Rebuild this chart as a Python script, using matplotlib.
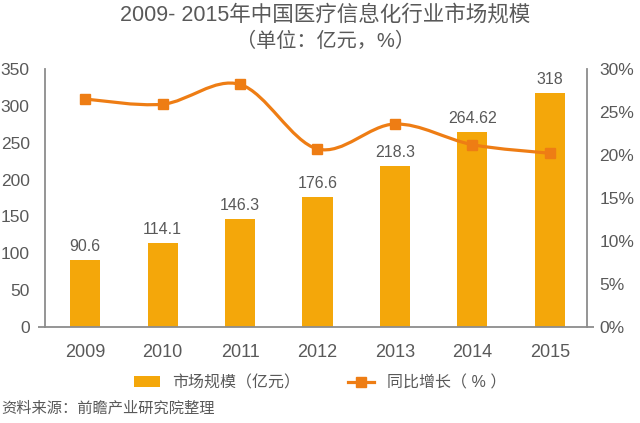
import matplotlib
matplotlib.use("Agg")
import matplotlib.pyplot as plt
from matplotlib.path import Path
from matplotlib.patches import PathPatch
from matplotlib.lines import Line2D
from matplotlib.patches import Patch

plt.rcParams['font.family'] = ['Liberation Sans', 'Noto Sans CJK SC', 'DejaVu Sans']

# -------------------------------
# Data
# -------------------------------
years = ["2009", "2010", "2011", "2012", "2013", "2014", "2015"]
market_size = [90.6, 114.1, 146.3, 176.6, 218.3, 264.62, 318]
size_labels = ["90.6", "114.1", "146.3", "176.6", "218.3", "264.62", "318"]
growth = [26.5, 25.9, 28.2, 20.7, 23.6, 21.2, 20.2]

bar_color = "#F4A70A"
line_color = "#EE7D14"
text_color = "#595959"
spine_color = "#8C8C8C"

fig = plt.figure(figsize=(6.4, 4.23), dpi=100)
ax = fig.add_axes([0.0703, 0.227, 0.8467, 0.610])
ax2 = ax.twinx()

x = list(range(len(years)))

# -------------------------------
# Bars
# -------------------------------
ax.bar(x, market_size, width=0.39, color=bar_color, zorder=2)
for xi, v, lab in zip(x, market_size, size_labels):
    ax.text(xi, v + 8, lab, ha="center", va="bottom", fontsize=11.5, color=text_color)

ax.set_xlim(-0.52, 6.48)
ax.set_ylim(0, 350)
ax.set_yticks(range(0, 351, 50))
ax.set_xticks(x)
ax.set_xticklabels(years)

# -------------------------------
# Smooth growth line (Catmull-Rom as bezier)
# -------------------------------
verts = [(x[0], growth[0])]
codes = [Path.MOVETO]
n = len(x)
for i in range(n - 1):
    p0 = (x[max(i - 1, 0)], growth[max(i - 1, 0)])
    p1 = (x[i], growth[i])
    p2 = (x[i + 1], growth[i + 1])
    p3 = (x[min(i + 2, n - 1)], growth[min(i + 2, n - 1)])
    c1 = (p1[0] + (p2[0] - p0[0]) / 6, p1[1] + (p2[1] - p0[1]) / 6)
    c2 = (p2[0] - (p3[0] - p1[0]) / 6, p2[1] - (p3[1] - p1[1]) / 6)
    verts += [c1, c2, p2]
    codes += [Path.CURVE4] * 3
ax2.add_patch(PathPatch(Path(verts, codes), facecolor="none",
                        edgecolor=line_color, linewidth=2.3, zorder=3))
ax2.plot(x, growth, linestyle="none", marker="s", markersize=7.5,
         color=line_color, zorder=4)
ax2.set_ylim(0, 30)
ax2.set_yticks(range(0, 31, 5))
ax2.set_yticklabels([f"{v}%" for v in range(0, 31, 5)])

# -------------------------------
# Axes styling
# -------------------------------
for a in (ax, ax2):
    for s in a.spines.values():
        s.set_visible(False)
    a.tick_params(length=0, labelsize=12.5, labelcolor=text_color)
for a, side in ((ax, "left"), (ax, "bottom"), (ax2, "right")):
    a.spines[side].set_visible(True)
    a.spines[side].set_color(spine_color)
    a.spines[side].set_linewidth(1.3)
ax.tick_params(axis="y", pad=11)
ax.tick_params(axis="x", pad=12, labelsize=13)
ax2.tick_params(axis="y", pad=9)

# small outward ticks at zero
for a in (ax, ax2):
    a.yaxis.remove_overlapping_locs = False
    a.set_yticks([0], minor=True)
    a.tick_params(axis="y", which="minor", length=5, color=spine_color, width=1.3)

# -------------------------------
# Titles, legend, source
# -------------------------------
fig.text(0.508, 0.965, "2009- 2015年中国医疗信息化行业市场规模", ha="center", va="center",
         fontsize=15.5, color=text_color)
fig.text(0.508, 0.902, "（单位：亿元，%）", ha="center", va="center",
         fontsize=14.5, color=text_color)

handles = [Patch(facecolor=bar_color, edgecolor="none"),
           Line2D([], [], color=line_color, linewidth=2.3, marker="s", markersize=7.5)]
fig.legend(handles, ["市场规模（亿元）", "同比增长（ % ）"], loc="center",
           bbox_to_anchor=(0.5, 0.095), ncol=2, frameon=False, fontsize=11.5,
           handlelength=1.6, columnspacing=3.0,
           labelcolor=text_color)
fig.text(0.002, 0.035, "资料来源：前瞻产业研究院整理", ha="left", va="center",
         fontsize=11, color=text_color)

fig.savefig("out.png", dpi=100)
